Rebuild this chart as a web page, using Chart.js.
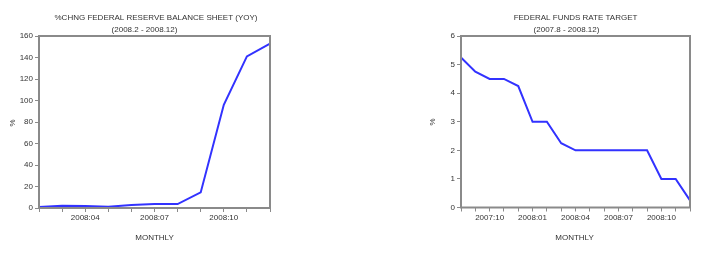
<!DOCTYPE html>
<html>
<head>
<meta charset="utf-8">
<script src="https://cdn.jsdelivr.net/npm/chart.js@4"></script>
<style>
  html, body { margin: 0; padding: 0; background: #fff; }
  .wrap { position: absolute; top: 0; width: 354px; height: 261px; }
</style>
</head>
<body>
<div class="wrap" style="left:0"><canvas id="c1" width="354" height="261"></canvas></div>
<div class="wrap" style="left:354px"><canvas id="c2" width="354" height="261"></canvas></div>
<script>
// ---- Data: Fed balance sheet %change (YoY) ----
const bsMonths = ['2008:02','2008:03','2008:04','2008:05','2008:06','2008:07','2008:08','2008:09','2008:10','2008:11','2008:12'];
const bsValues = [1.0, 2.0, 1.8, 1.2, 2.8, 3.7, 3.7, 14.5, 96, 141, 153];
const bsTickLabels = ['2008:04','2008:07','2008:10'];

// ---- Data: Federal funds rate target ----
const ffMonths = ['2007:08','2007:09','2007:10','2007:11','2007:12','2008:01','2008:02','2008:03','2008:04','2008:05','2008:06','2008:07','2008:08','2008:09','2008:10','2008:11','2008:12'];
const ffValues = [5.25, 4.75, 4.5, 4.5, 4.25, 3.0, 3.0, 2.25, 2.0, 2.0, 2.0, 2.0, 2.0, 2.0, 1.0, 1.0, 0.25];
const ffTickLabels = ['2007:10','2008:01','2008:04','2008:07','2008:10'];

const FONT = '"Liberation Sans", Arial, sans-serif';
const TXT = '#333';
const AXC = '#8a8a8a';

const decor = {
  id: 'decor',
  afterDraw(chart, args, o) {
    const ctx = chart.ctx, a = chart.chartArea;
    ctx.save();
    ctx.strokeStyle = AXC;
    ctx.lineWidth = 2;
    ctx.strokeRect(a.left, a.top, a.right - a.left, a.bottom - a.top);
    ctx.fillStyle = TXT;
    ctx.font = '8px ' + FONT;
    ctx.textAlign = 'center';
    ctx.textBaseline = 'middle';
    const cx = (a.left + a.right) / 2;
    ctx.fillText(o.title, cx + o.tdx, 18);
    ctx.fillText(o.subtitle, cx + o.sdx, 30);
    ctx.fillText(o.xTitle, cx + o.xdx, 238);
    ctx.translate(o.yx, o.yy);
    ctx.rotate(-Math.PI / 2);
    ctx.fillText(o.yTitle, 0, 0);
    ctx.restore();
  }
};

function makeChart(id, labels, values, tickLabels, yMax, yStep, yWidth, pad, dec) {
  return new Chart(document.getElementById(id), {
    type: 'line',
    data: {
      labels: labels,
      datasets: [{
        data: values,
        borderColor: '#3232ff',
        borderWidth: 2,
        pointRadius: 0,
        tension: 0,
        fill: false
      }]
    },
    options: {
      responsive: false,
      animation: false,
      layout: { padding: pad },
      plugins: { legend: { display: false }, tooltip: { enabled: false }, decor: dec },
      scales: {
        x: {
          type: 'category',
          offset: false,
          afterFit(s) { s.height = 20; },
          border: { display: false },
          grid: { display: true, drawOnChartArea: false, drawTicks: true, tickLength: 4, color: AXC, lineWidth: 1 },
          ticks: {
            autoSkip: false, maxRotation: 0, minRotation: 0, padding: 1,
            color: TXT, font: { family: FONT, size: 8 },
            callback(v) { const l = this.getLabelForValue(v); return tickLabels.includes(l) ? l : ''; }
          }
        },
        y: {
          min: 0, max: yMax,
          afterFit(s) { s.width = yWidth; },
          border: { display: false },
          grid: { display: true, drawOnChartArea: false, drawTicks: true, tickLength: 4, color: AXC, lineWidth: 1 },
          ticks: { stepSize: yStep, padding: 2, color: TXT, font: { family: FONT, size: 8 } }
        }
      }
    },
    plugins: [decor]
  });
}

makeChart('c1', bsMonths, bsValues, bsTickLabels, 160, 20, 39,
  { left: 0, right: 84, top: 36, bottom: 33 },
  { title: '%CHNG FEDERAL RESERVE BALANCE SHEET (YOY)', subtitle: '(2008.2 - 2008.12)', xTitle: 'MONTHLY', yTitle: '%',
    tdx: 1.5, sdx: -10, xdx: 0, yx: 13, yy: 123 });

makeChart('c2', ffMonths, ffValues, ffTickLabels, 6, 1, 107,
  { left: 0, right: 18, top: 36, bottom: 33.5 },
  { title: 'FEDERAL FUNDS RATE TARGET', subtitle: '(2007.8 - 2008.12)', xTitle: 'MONTHLY', yTitle: '%',
    tdx: 0, sdx: -9, xdx: -1, yx: 79, yy: 122 });
</script>
</body>
</html>
